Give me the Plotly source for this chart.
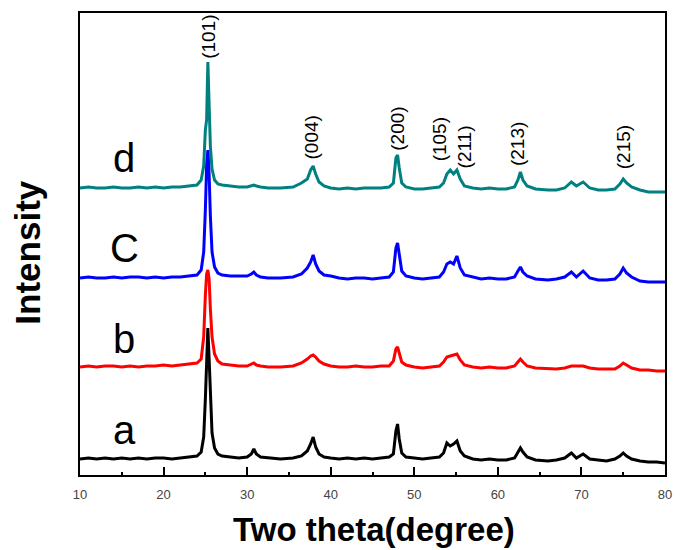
import plotly.graph_objects as go

# Two-theta grid (degrees)
two_theta = [10, 11, 12, 13, 14, 15, 16, 17, 18, 19, 20, 21, 22, 23, 24,
             24.5, 24.8, 25.0, 25.15, 25.3, 25.45, 25.6, 25.8, 26.1, 26.5,
             27, 28, 29, 30,
             30.5, 30.8, 31.1, 31.6,
             32.5, 34, 35.5, 36.5,
             37.2, 37.6, 37.9, 38.2, 38.6, 39.2,
             40, 41, 42, 43, 44, 45, 46, 47,
             47.5, 47.8, 48.0, 48.2, 48.5, 49,
             50, 51, 52, 53,
             53.5, 53.9, 54.3, 54.7, 55.1, 55.5, 56,
             57, 58, 59, 60, 61, 62,
             62.4, 62.7, 63.0, 63.5, 64.5,
             66, 67, 68,
             68.8, 69.4, 70.2, 71,
             72, 73, 74,
             74.6, 75.0, 75.4, 76,
             77, 78, 79, 80]

# Relative intensities (a.u.)
int_a = [0, 1, 0, 1, 0, 1, 0, 1, 0, 1, 1, 0, 1, 2, 3,
         7, 22, 60, 105, 131, 100, 58, 26, 11, 5,
         3, 2, 1, 2,
         5, 10, 5, 2,
         1, 0, 1, 3,
         8, 15, 22, 12, 5, 2,
         1, 0, 1, 0, 1, 0, 1, 2,
         5, 28, 35, 20, 6, 2,
         1, 0, 1, 2,
         6, 16, 13, 15, 18, 8, 3,
         0, -1, 0, -1, -1, 1,
         6, 11, 7, 2, -1,
         -2, -1, 1,
         6, 1, 5, 0,
         -1, -2, 0,
         3, 6, 3, 0,
         -2, -3, -3, -4]

int_b = [0, 1, 0, 1, 1, 0, 1, 0, 1, 1, 2, 1, 2, 3, 4,
         8, 30, 72, 93, 97, 88, 58, 30, 13, 6,
         3, 2, 1, 1,
         3, 4, 2, 1,
         0, 0, 1, 4,
         8, 11, 12, 10, 6, 3,
         1, 0, 0, 1, 0, 0, 1, 1,
         6, 18, 20, 14, 5, 2,
         0, -1, 0, 1,
         5, 10, 11, 12, 13, 7, 2,
         0, -1, 0, -1, -1, 1,
         5, 8, 5, 1, -1,
         -2, -2, -1,
         1, 1, 1, -1,
         -2, -2, -2,
         1, 4, 2, -1,
         -3, -3, -4, -4]

int_c = [0, 1, 0, 0, 1, 0, 1, 1, 0, 1, 0, 1, 1, 2, 3,
         8, 26, 68, 112, 128, 104, 62, 26, 11, 5,
         3, 2, 2, 2,
         4, 6, 3, 1,
         0, 0, 1, 4,
         10, 16, 23, 14, 7, 3,
         2, 0, -1, 0, 0, -1, 0, 1,
         6, 30, 35, 22, 7, 2,
         0, -1, 0, 1,
         6, 14, 16, 14, 22, 10, 3,
         1, -1, 0, -1, -1, 1,
         7, 11, 6, 2, -1,
         -2, -1, 1,
         6, 1, 7, 0,
         -2, -2, -1,
         4, 10, 5, 1,
         -3, -4, -4, -4]

int_d = [0, 1, 0, 0, 1, 0, 0, 1, 0, 1, 0, 1, 1, 2, 3,
         8, 22, 58, 68, 126, 68, 42, 19, 8, 4,
         3, 2, 1, 1,
         2, 3, 2, 1,
         0, 0, 1, 5,
         9, 18, 22, 14, 6, 2,
         0, -1, 0, -1, 0, 0, 0, 1,
         5, 30, 33, 20, 5, 1,
         -1, -1, 0, 1,
         5, 14, 18, 14, 18, 9, 2,
         0, -1, 0, -1, -1, 1,
         8, 16, 8, 2, -1,
         -2, -2, 0,
         6, 2, 6, 0,
         -2, -2, -1,
         4, 9, 5, 1,
         -2, -4, -4, -4]

sample_names = ["a", "b", "c", "d"]
sample_offsets = [16, 108, 197, 287]
sample_colors = ["#000000", "#FF0000", "#0000FF", "#008080"]
sample_label_text = ["a", "b", "C", "d"]

# Miller index labels: position (two theta) and label height (a.u.)
hkl_labels = ["(101)", "(004)", "(200)", "(105)", "(211)", "(213)", "(215)"]
hkl_theta = [25.3, 37.7, 47.9, 53.0, 56.0, 62.3, 75.0]
hkl_height = [438, 338, 346, 336, 328, 331, 328]

series = [int_a, int_b, int_c, int_d]

fig = go.Figure()
for i in [3, 2, 1, 0]:
    yv = [v + sample_offsets[i] for v in series[i]]
    fig.add_trace(go.Scatter(x=two_theta, y=yv, mode="lines",
                             name=sample_names[i],
                             line=dict(color=sample_colors[i], width=3),
                             showlegend=False))

annotations = []
for lab, tx, hy in zip(hkl_labels, hkl_theta, hkl_height):
    annotations.append(dict(x=tx, y=hy, xref="x", yref="y", text=lab,
                            showarrow=False, textangle=-90,
                            font=dict(family="Liberation Sans, Arial", size=19, color="#000000"),
                            xanchor="center", yanchor="middle"))

label_y = [45, 136, 227, 317]
for i in range(4):
    annotations.append(dict(x=15.3, y=label_y[i], xref="x", yref="y",
                            text=sample_label_text[i], showarrow=False,
                            font=dict(family="Liberation Sans, Arial", size=40, color="#000000"),
                            xanchor="center", yanchor="middle"))

annotations.append(dict(x=0.503, y=-0.119, xref="paper", yref="paper",
                        text="<b>Two theta(degree)</b>", showarrow=False,
                        font=dict(family="Liberation Sans, Arial", size=33, color="#000000"),
                        xanchor="center", yanchor="middle"))
annotations.append(dict(x=-0.0912, y=0.4805, xref="paper", yref="paper",
                        text="<b>Intensity</b>", showarrow=False, textangle=-90,
                        font=dict(family="Liberation Sans, Arial", size=35, color="#000000"),
                        xanchor="center", yanchor="middle"))

fig.update_layout(
    width=680, height=550,
    margin=dict(l=80, r=8, t=13, b=75),
    paper_bgcolor="white", plot_bgcolor="white",
    annotations=annotations,
    xaxis=dict(range=[10, 80], tick0=10, dtick=10, ticks="inside", ticklen=8,
               tickwidth=2, tickcolor="black",
               minor=dict(ticks="inside", ticklen=3, tickwidth=2, dtick=5, tick0=10, tickcolor="black"),
               showline=True, linecolor="black", linewidth=2, mirror=True,
               showgrid=False, zeroline=False,
               tickfont=dict(family="Liberation Sans, Arial", size=13, color="#444444"),
               ticklabelstandoff=6),
    yaxis=dict(range=[0, 462], showticklabels=False, ticks="",
               showline=True, linecolor="black", linewidth=2, mirror=True,
               showgrid=False, zeroline=False),
)

fig.write_html("out.html")
